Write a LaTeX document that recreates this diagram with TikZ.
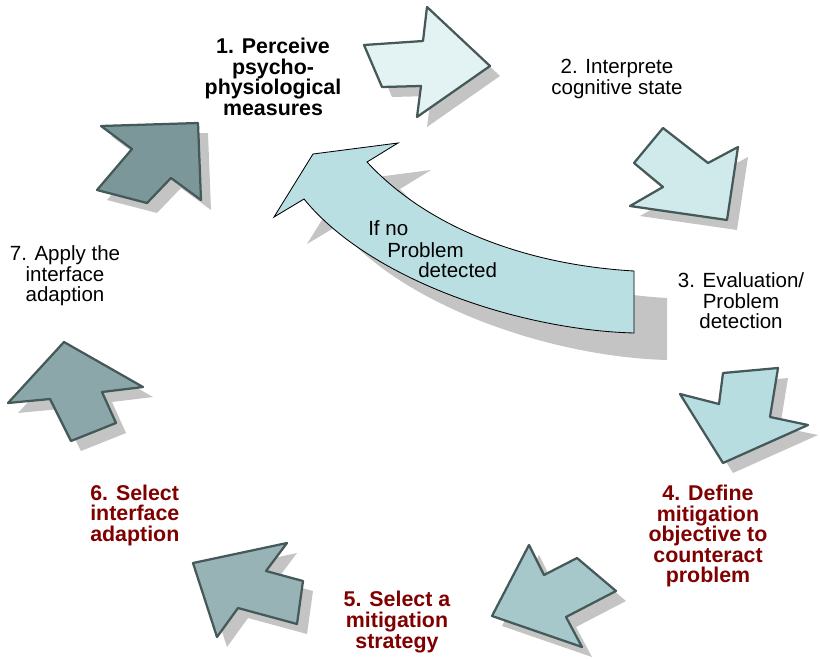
\documentclass[tikz,border=0pt]{standalone}
\usepackage{fontspec}
\setmainfont{Liberation Sans}
\usetikzlibrary{positioning, calc}
\definecolor{ArrowLine}{RGB}{69,89,89}
\definecolor{ShadowGray}{RGB}{196,196,196}
\definecolor{DarkRed}{RGB}{128,0,0}
\definecolor{StepOne}{RGB}{227,243,243}
\definecolor{StepTwo}{RGB}{208,233,235}
\definecolor{LoopBack}{RGB}{186,223,227}
\definecolor{StepFour}{RGB}{184,221,225}
\definecolor{StepFive}{RGB}{166,200,203}
\definecolor{StepSix}{RGB}{151,179,181}
\definecolor{StepSeven}{RGB}{139,167,169}
\definecolor{StepEight}{RGB}{124,151,153}

\tikzset{
  arrowbody/.style={draw=ArrowLine, line width=1.6pt, line join=round},
  arrowshadow/.style={fill=ShadowGray, draw=none},
  steplabel/.style={font=\fontsize{14.6}{14.6}\selectfont, inner sep=0pt, align=center},
  stepbold/.style={steplabel, font=\fontsize{15.2}{14.6}\selectfont\bfseries},
}
\newcommand{\cyclearrow}[2]{%
  \fill[arrowshadow, shift={(10,10)}] #2 -- cycle;
  \draw[arrowbody, fill=#1] #2 -- cycle;}

\begin{document}
\begin{tikzpicture}[x=0.025cm, y=-0.025cm]
    \useasboundingbox (0,0) rectangle (820,658);
    \cyclearrow{StepOne}{(364,45) -- (423,41) -- (427,7) -- (490,66) -- (417,117) -- (421,86) -- (382,87)}
    \cyclearrow{StepTwo}{(663,128) -- (708,163) -- (738,147) -- (727,220) -- (630,206) -- (663,187) -- (634,163)}
    \cyclearrow{StepFour}{(723,373) -- (778,368) -- (770,417) -- (808,425) -- (723,463) -- (680,394) -- (719,404)}
    \cyclearrow{StepFive}{(529,545) -- (544,575) -- (577,558) -- (616,591) -- (566,617) -- (582,647) -- (492,616)}
    \cyclearrow{StepSix}{(193,563) -- (287,543) -- (266,571) -- (303,581) -- (297,624) -- (238,608) -- (217,637)}
    \cyclearrow{StepSeven}{(64,342) -- (143,387) -- (102,392) -- (116,423) -- (71,441) -- (50,399) -- (8,403)}
    \cyclearrow{StepEight}{(101,126) -- (198,123) -- (201,200) -- (171,178) -- (147,203) -- (97,190) -- (132,149)}
    \fill[arrowshadow, shift={(33,27)}] (313,154) -- (398,143) -- (367,162) .. controls (430,230) and (530,265) .. (634,271) -- (634,333) .. controls (520,330) and (370,280) .. (304,199) -- (274,217) -- cycle;
    \draw[fill=LoopBack, line width=0.6pt] (313,154) -- (398,143) -- (367,162) .. controls (430,230) and (530,265) .. (634,271) -- (634,333) .. controls (520,330) and (370,280) .. (304,199) -- (274,217) -- cycle;
    \node[stepbold] (perceive) at (273,77) {1. Perceive\\psycho-\\physiological\\measures};
    \node[steplabel] (interprete) at (617,79) {2. Interprete\\cognitive state};
    \node[steplabel] (evaluation) at (741,301) {3. Evaluation/\\Problem\\detection};
    \node[stepbold, text=DarkRed] (objective) at (708,536) {4. Define\\mitigation\\objective to\\counteract\\problem};
    \node[stepbold, text=DarkRed] (strategy) at (397,622) {5. Select a\\mitigation\\strategy};
    \node[stepbold, text=DarkRed, align=left, anchor=west] (adaption) at (90,515) {6. Select\\interface\\adaption};
    \node[steplabel] (apply) at (65,276) {7. Apply the\\interface\\adaption};
    \node[steplabel, anchor=west] (ifno) at (368,228) {If no};
    \node[steplabel, anchor=west] (problem) at (387,250) {Problem};
    \node[steplabel, anchor=west] (detected) at (418,270) {detected};
\end{tikzpicture}
\end{document}
